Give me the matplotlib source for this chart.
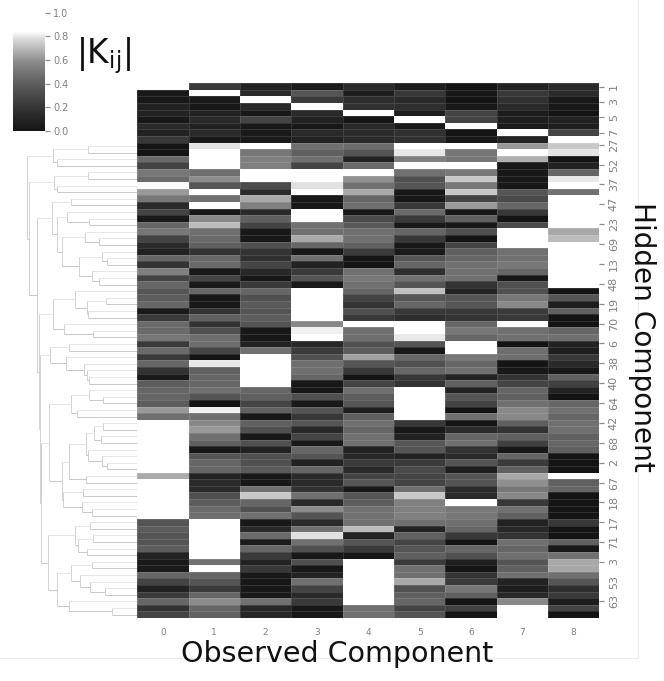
import numpy as np
import matplotlib
matplotlib.use("Agg")
import matplotlib.pyplot as plt
from matplotlib.colors import LinearSegmentedColormap
from matplotlib.lines import Line2D

W = 0xff
col_0 = [W,0x18,0x18,0x22,0x22,0x18,0x2a,0x22,0x38,
         0x14,0x14,0x6a,0x44,0x77,0x6a,0xfa,0x99,0x77,0x2a,0x44,0x1a,0x66,0x77,0x44,0x2a,0x22,0x66,
         0x33,0x80,0x44,0x66,0x55,0x5d,0x66,0x1a,0x3a,0x6a,0x6a,0x77,0x3a,0x6a,0x3a,0x66,0x33,0x1a,0x5d,0x66,0x66,0x5d,0x99,0x70,
         W,W,W,W,W,W,W,W,0xaa,W,W,W,W,W,W,
         0x55,0x5d,0x55,0x55,0x5d,0x22,0x1a,0x1a,0x66,0x44,0x22,0x3a,0x66,0x33,0x44]
col_1 = [0x3a,W,0x18,0x18,0x22,0x2a,0x22,0x2a,0x18,0xe0,W,W,W,0x6e,0x8c,0x55,W,0x70,W,0x18,0x88,0xbb,0x70,0x6a,0x60,0x33,0x66,
         0x6a,0x18,0x44,0x18,0x66,0x18,0x18,0x33,0x60,0x33,0x50,0x6e,0x6e,0x44,0x14,0xe8,0x60,0x66,0x66,0x70,0x55,0x14,0xf0,0x70,0x88,0x99,
         0x70,0x60,0x18,0x55,0x66,0x66,0x22,0x2a,0x2a,0x50,0x5d,0x6a,0x6e,
         W,W,W,W,W,W,
         0x70,W,0x66,0x55,0x3a,0x66,0x8c,0x66,0x60]
col_2 = [0x22,0x2a,W,0x28,0x18,0x44,0x18,0x1a,0x1a,W,0x77,0x80,0x80,W,W,0x4a,0x2a,0xa8,0x80,0x2a,0x60,0x44,0x18,0x18,0x50,0x33,0x30,
         0x44,0x28,0x18,0x3a,0x66,0x50,0x5a,0x55,0x5d,0x55,0x18,0x18,0x22,0x70,
         W,W,W,W,W,
         0x66,0x60,0x44,0x60,0x18,0x60,0x50,
         0x18,0x50,0x22,0x50,0x50,0x5a,0x18,0x18,0x70,0xc8,0x66,0x50,0x70,0x18,0x28,0x6a,0x1a,0x66,0x3a,0x22,0x38,0x18,0x18,0x18,0x18,0x70,0x28,0x28]
col_3 = [0x1a,0x55,0x3a,W,0x2a,0x22,0x18,0x2a,0x22,0x70,0x60,0x70,0x44,W,W,0xe0,W,0x18,0x18,W,W,0x70,0x70,0xaa,0x66,0x18,0x70,
         0x22,0x3a,0x55,0x1a,W,W,W,W,W,
         0x88,0xf0,W,0x28,0x3a,0x50,0x6e,0x70,0x66,0x18,0x18,0x50,0x18,0x55,0x38,0x55,0x28,
         0x44,0x18,0x66,0x55,0x22,0x66,0x2a,0x2a,0x33,0x70,0x2a,0x8c,0x55,0x2a,0x70,0xe0,0x70,0x50,0x18,0x50,0x18,0x22,0x70,0x44,0x2a,0x3a,0x18,0x18]
col_4 = [0x2a,0x1e,0x2e,0x30,W,0x14,0x28,0x2a,0x2a,0x6e,0x55,0x22,0x6a,W,0x90,0x70,0xa8,0x66,0x70,0x18,0x4a,0x5a,0x70,0x70,0x60,0x3a,0x14,
         0x14,0x70,0x78,0x70,0x66,0x44,0x33,0x50,0x38,W,0x70,0x6e,0x50,0x5d,0xa0,0x55,0x38,0x14,0x44,0x70,0x5d,0x55,0x1e,0x60,0x70,0x66,
         0x70,0x70,0x22,0x28,0x3a,0x2a,0x44,0x55,0x18,0x55,0x5d,0x70,0x70,0x70,0xbb,0x22,0x55,0x3a,0x18,
         W,W,W,W,W,W,W,0x70,0x70]
col_5 = [0x1c,0x38,0x2a,0x2e,0x1e,W,0x18,0x30,0x30,W,0xe8,0x80,W,0x70,0x50,0x55,0x18,0x18,0x38,0x6a,0x3a,0x18,0x66,0x38,0x18,0x1a,0x55,
         0x66,0x2e,0x70,0x55,0xc0,0x55,0x66,0x38,0x2e,W,W,0xe8,0x55,0x18,0x66,0x50,0x66,0x38,0x33,
         W,W,W,W,W,0x38,0x18,
         0x22,0x55,0x55,0x22,0x3a,0x4a,0x44,0x44,0x70,0xc8,0x80,0x80,0x80,0x70,0x22,0x60,0x44,0x55,0x60,0x3a,0x70,0x70,0xa8,0x50,0x60,0x66,0x44,0x55]
col_6 = [0x14,0x18,0x14,0x18,0x44,0x44,W,0x14,0x18,W,0x77,0x77,W,0x77,0xc8,0x77,0xc8,0x44,0x9a,0x18,0x60,0x18,0x50,0x14,0x44,0x60,0x66,
         0x70,0x70,0x70,0x33,0x22,0x55,0x55,0x38,0x33,0x66,0x77,0x66,W,W,0x77,0x66,0x70,0x22,0x60,0x22,0x55,0x44,0x14,0x70,0x14,0x2a,
         0x66,0x70,0x33,0x2a,0x55,0x1e,0x55,0x55,0x2a,0x2a,W,0x77,0x77,0x70,0x66,0x38,0x14,0x66,0x50,0x1e,0x14,0x33,0x3a,0x77,0x60,0x14,0x40,0x14]
col_7 = [0x22,0x38,0x30,0x2a,0x1c,0x1e,0x1a,W,0x22,0x99,W,0xb0,0x18,0x18,0x18,0x18,0x55,0x4a,0x66,0x38,0x14,0x4a,W,W,W,0x70,0x70,
         0x77,0x66,0x18,0x50,0x50,0x77,0x88,0x3a,0x38,W,0x70,0x70,0x14,0x6e,0x6e,0x14,0x18,0x33,0x44,0x66,0x60,0x70,0x88,0x88,0x60,0x33,
         0x60,0x40,0x18,0x66,0x3a,0x60,0xa8,0x90,0x77,0x88,0x38,0x70,0x60,0x22,0x28,0x33,0x70,0x66,0x70,0x55,0x60,0x70,0x22,0x1e,0x28,0x88,W,W]
col_8 = [0x2a,0x2a,0x18,0x18,0x14,0x22,0x1e,0x44,W,0xc8,0xe4,0x14,0x22,0x66,0xe8,W,0x70,
         W,W,W,W,W,0xa8,0xbb,W,W,W,W,W,W,W,
         0x14,0x55,0x1e,0x60,0x14,0x14,0x66,0x70,0x22,0x1e,0x38,0x2a,0x18,0x60,0x40,0x22,0x14,0x66,0x70,0x66,0x70,0x70,
         0x60,0x66,0x60,0x14,0x14,0x14,W,0x60,0x66,0x14,0x14,0x14,0x14,0x38,0x14,0x14,0x60,0x18,0x70,0xa8,0xa8,0x70,0x55,0x2e,0x3a,0x1e,0x44,0x14]

observed_labels = ["0", "1", "2", "3", "4", "5", "6", "7", "8"]
hidden_labels = ["1","3","5","7","27","52","37","47","23","69","13","48","19","70",
                 "6","38","40","64","42","68","2","67","18","17","71","3","53","63"]
hidden_tick_rows = [0.52,2.83,5.15,7.48,9.35,12.38,15.3,18.29,21.3,24.35,27.38,30.4,33.44,36.47,
                    39.4,42.42,45.45,48.4,51.4,54.45,57.48,60.5,63.5,66.5,69.5,72.5,75.5,78.5]

# colour scale: value -> grey level
scale_values = [0.0, 0.2, 0.4, 0.6, 0.8, 0.86]
scale_greys = [0x12, 0x33, 0x5a, 0x8a, 0xdd, 0xff]

# dendrogram merges: (merge height, upper child, lower child); ints are heatmap rows
T1 = (84, (49, 9, 10), (80, 11, 12))
T2 = (83, (49, 13, 14), (80, 15, 16))
T3 = (85, (66, 17, 18),
      (80, (70, 19, (48, 20, 21)),
       (75, (52, 22, (38, 23, 24)),
        (58, (35, 25, (30, 26, 27)), (45, 28, (38, 29, 30))))))
T4 = (84, (62, 31, (50, (31, 32, 33), (49, 34, 35))), (73, 36, (44, 37, 38)))
TC = (87, (68, 39, 40), (71, 41, (53, 42, (50, 43, (48, 44, 45)))))
TD = (88, (66, (48, 46, (34, 47, 48)), (60, 49, 50)),
      (75, (68, (51, (43, (34, 51, 52), (36, 53, 54)), (49, 55, (35, 56, (30, 57, 58)))), (51, 59, 60)),
       (74, (54, 61, 62), (55, 63, (45, 64, 65)))))
TE = (89, (62, (47, 66, 67), (59, (44, 68, 69), (50, 70, 71))),
      (80, (66, (45, 72, 73), (57, 74, (47, 75, (32, 76, 77)))), (68, 78, (25, 79, 80))))
tree = (110, T1, (108, T2, (100, T3, (98, T4, (97, TC, (96, TD, TE))))))

FW, FH = 664, 681
LEFT, RIGHT, TOP, BOTTOM = 137.3, 599.4, 83.3, 617.9
TICK_C = "#8c8c8c"
LABEL_C = "#808080"


def rect(l, t, r, b):
    return [l / FW, 1 - b / FH, (r - l) / FW, (b - t) / FH]


levels = np.array([col_0, col_1, col_2, col_3, col_4, col_5, col_6, col_7, col_8], float).T
K = np.interp(levels, scale_greys, scale_values)
K[levels == 0xff] = 1.0

stops = [(v, str(g / 255)) for v, g in zip(scale_values, scale_greys)] + [(1.0, "1.0")]
cmap = LinearSegmentedColormap.from_list("kij", stops, N=512)

fig = plt.figure(figsize=(FW / 100, FH / 100), dpi=100, facecolor="white")

# faint frame of the original page
fig.add_artist(Line2D([638 / FW, 638 / FW], [1 - 658 / FH, 1], color="#ececec", lw=0.8))
fig.add_artist(Line2D([0, 638 / FW], [1 - 658 / FH, 1 - 658 / FH], color="#ececec", lw=0.8))

# dendrogram
ax_d = fig.add_axes(rect(0, TOP, LEFT, BOTTOM))
ax_d.set_xlim(LEFT, 0)
ax_d.set_ylim(81, 0)
ax_d.axis("off")


def draw(node):
    if isinstance(node, int):
        return 0.0, node + 0.5
    h, a, b = node
    ha, ya = draw(a)
    hb, yb = draw(b)
    ax_d.plot([ha, h], [ya, ya], color="#e6e6e6", lw=0.7, solid_capstyle="butt")
    ax_d.plot([hb, h], [yb, yb], color="#c8c8c8", lw=0.7, solid_capstyle="butt")
    ax_d.plot([h, h], [ya, yb], color="#d2d2d2", lw=0.7, solid_capstyle="butt")
    return h, (ya + yb) / 2


draw(tree)

# heatmap
ax = fig.add_axes(rect(LEFT, TOP, RIGHT, BOTTOM))
mesh = ax.pcolormesh(K, cmap=cmap, vmin=0, vmax=1, edgecolors=(1, 1, 1, 0.12), linewidth=0.5)
ax.set_ylim(81, 0)
ax.set_xlim(0, 9)
for s in ax.spines.values():
    s.set_visible(False)
ax.set_xticks(np.arange(9) + 0.5, observed_labels)
ax.tick_params(axis="x", length=0, pad=7, labelsize=6.5, labelcolor=LABEL_C)
ax.yaxis.tick_right()
ax.set_yticks(hidden_tick_rows, hidden_labels, rotation=90, va="center")
ax.tick_params(axis="y", length=3.8, width=0.9, color=TICK_C, pad=3, labelsize=8, labelcolor=LABEL_C)
ax.yaxis.get_major_ticks()[hidden_labels.index("53")].tick2line.set_visible(False)

# colour bar
cax = fig.add_axes(rect(13, 12.7, 44.5, 130.7))
cb = fig.colorbar(mesh, cax=cax)
cb.outline.set_visible(False)
cb.solids.set_edgecolor("face")
cb.set_ticks([0, 0.2, 0.4, 0.6, 0.8, 1.0], labels=["0.0", "0.2", "0.4", "0.6", "0.8", "1.0"])
cax.tick_params(length=3.6, width=0.9, color=TICK_C, pad=2.8, labelsize=7, labelcolor=LABEL_C)

fig.text(104 / FW, 1 - 56 / FH, r"$|\mathrm{K}_{\mathrm{ij}}|$", fontsize=23.5, color="#111111",
         ha="center", va="center")
fig.text(337 / FW, 1 - 654 / FH, "Observed Component", fontsize=20.5, color="#111111",
         ha="center", va="center")
fig.text(642 / FW, 1 - 336.5 / FH, "Hidden Component", fontsize=20.2, color="#111111",
         rotation=270, ha="center", va="center")

fig.savefig("out.png", dpi=100, facecolor="white")
